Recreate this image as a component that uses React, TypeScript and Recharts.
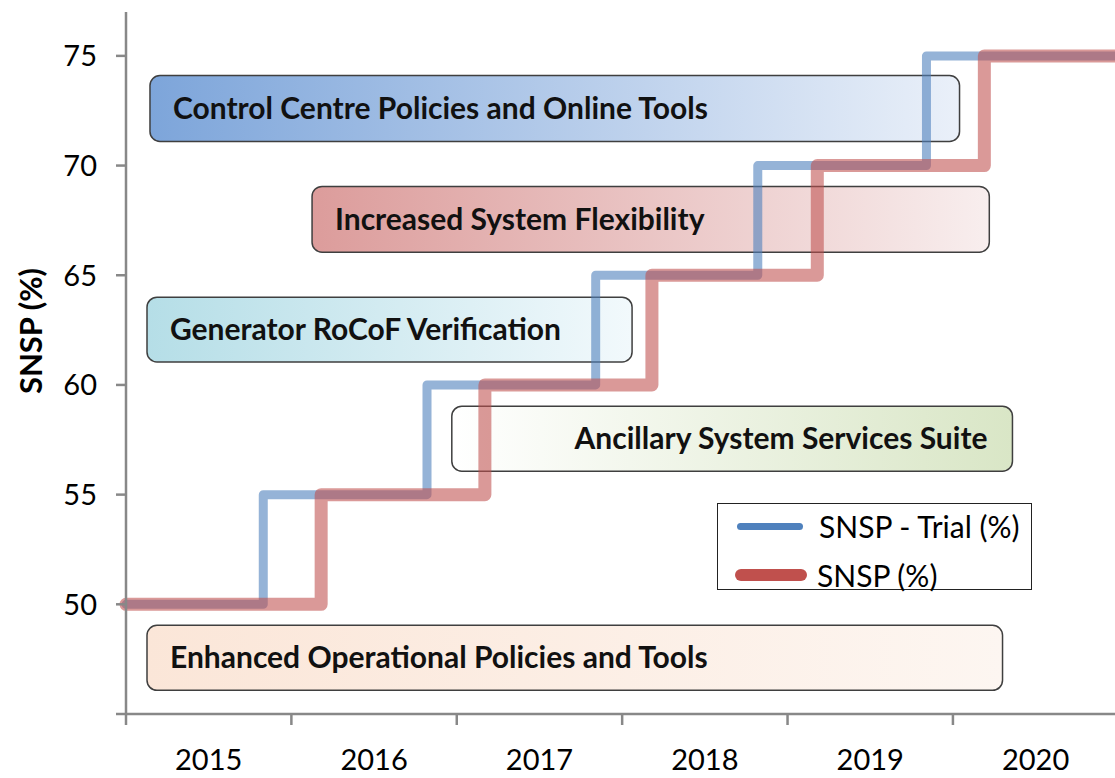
import { ComposedChart, Legend, Line, ReferenceArea, XAxis, YAxis } from "recharts";

const FONT = "Lato, 'Open Sans', sans-serif";

// year boundaries drawn as tick marks, labels sit in the middle of each year
const years = [2015, 2016, 2017, 2018, 2019, 2020];
const yTicks = [45, 50, 55, 60, 65, 70, 75];
const seriesOrder = ["SNSP - Trial (%)", "SNSP (%)"];

// step changes (fractional year where SNSP limit was raised)
const snspTrial = [
  { year: 2015.0, value: 50 },
  { year: 2015.83, value: 55 },
  { year: 2016.82, value: 60 },
  { year: 2017.84, value: 65 },
  { year: 2018.82, value: 70 },
  { year: 2019.84, value: 75 },
  { year: 2020.98, value: 75 },
];

const snsp = [
  { year: 2015.0, value: 50 },
  { year: 2016.18, value: 55 },
  { year: 2017.17, value: 60 },
  { year: 2018.18, value: 65 },
  { year: 2019.18, value: 70 },
  { year: 2020.19, value: 75 },
  { year: 2020.98, value: 75 },
];

// programme work streams: time span and SNSP band they sit in
const workstreams = [
  { name: "Control Centre Policies and Online Tools", from: 2015.145, to: 2020.04, low: 71.1, high: 74.1, grad: "gBlue", align: "left" },
  { name: "Increased System Flexibility", from: 2016.125, to: 2020.22, low: 66.05, high: 69.05, grad: "gRed", align: "left" },
  { name: "Generator RoCoF Verification", from: 2015.127, to: 2018.06, low: 61.05, high: 64.0, grad: "gCyan", align: "left" },
  { name: "Ancillary System Services Suite", from: 2016.97, to: 2020.36, low: 56.07, high: 59.03, grad: "gGreen", align: "right" },
  { name: "Enhanced Operational Policies and Tools", from: 2015.127, to: 2020.3, low: 46.08, high: 49.04, grad: "gOrange", align: "left" },
];

const X_MIN = 2015;
const X_MAX = 2020.98;
const PLOT_LEFT = 126;
const CHART_W = 1115;
const PX_PER_YEAR = (CHART_W - PLOT_LEFT) / (X_MAX - X_MIN);

function YearTick(props: any) {
  const { x, y, payload } = props;
  return (
    <text x={x + PX_PER_YEAR / 2} y={y} dy="0.71em" textAnchor="middle" fill="#000" fontSize={29} fontFamily={FONT}>
      {payload.value}
    </text>
  );
}

function RoundBox(props: any) {
  const { x, y, width, height, fill } = props;
  return <rect x={x} y={y} width={width} height={height} rx={10} ry={10} fill={fill} stroke="#3f3f3f" strokeWidth={1.5} />;
}

function LegendBox(props: any) {
  const items = [...(props.payload || [])].sort((a: any, b: any) => seriesOrder.indexOf(a.value) - seriesOrder.indexOf(b.value));
  return (
    <div style={{ position: "relative", width: 315, height: 87, border: "1.5px solid #222", background: "#fff", boxSizing: "border-box", fontFamily: FONT, fontSize: 30, color: "#000" }}>
      {items.map((item: any, i: number) => (
        <div key={item.value} style={{ position: "absolute", left: 0, top: i === 0 ? 2 : 51, height: 40, display: "flex", alignItems: "center" }}>
          <div
            style={{
              marginLeft: i === 0 ? 19 : 17,
              width: i === 0 ? 66 : 72,
              height: i === 0 ? 7 : 12,
              borderRadius: 6,
              background: item.color,
            }}
          />
          <span style={{ marginLeft: i === 0 ? 16 : 10, whiteSpace: "nowrap" }}>{item.value}</span>
        </div>
      ))}
    </div>
  );
}

export default function App() {
  return (
    <div style={{ position: "absolute", left: 0, top: 0, background: "#fff" }}>
      <ComposedChart width={CHART_W} height={778} margin={{ top: 12, right: 0, left: 0, bottom: 0 }}>
        <defs>
          <linearGradient id="gBlue" x1="0" y1="0" x2="1" y2="0">
            <stop offset="0%" stopColor="#7da5da" />
            <stop offset="100%" stopColor="#eaf0f9" />
          </linearGradient>
          <linearGradient id="gRed" x1="0" y1="0" x2="1" y2="0">
            <stop offset="0%" stopColor="#dc9c9b" />
            <stop offset="100%" stopColor="#f8eeee" />
          </linearGradient>
          <linearGradient id="gCyan" x1="0" y1="0" x2="1" y2="0">
            <stop offset="0%" stopColor="#b5dee7" />
            <stop offset="100%" stopColor="#f2f9fc" />
          </linearGradient>
          <linearGradient id="gGreen" x1="0" y1="0" x2="1" y2="0">
            <stop offset="0%" stopColor="#ffffff" />
            <stop offset="100%" stopColor="#d9e6c6" />
          </linearGradient>
          <linearGradient id="gOrange" x1="0" y1="0" x2="1" y2="0">
            <stop offset="0%" stopColor="#fbe6d8" />
            <stop offset="100%" stopColor="#fdf6f1" />
          </linearGradient>
        </defs>
        <XAxis
          type="number"
          dataKey="year"
          domain={[X_MIN, X_MAX]}
          ticks={years}
          interval={0}
          height={64}
          axisLine={{ stroke: "#888", strokeWidth: 2.5 }}
          tickLine={{ stroke: "#888", strokeWidth: 2.5 }}
          tickSize={11}
          tickMargin={24}
          tick={<YearTick />}
        />
        <YAxis
          type="number"
          domain={[45, 77]}
          ticks={yTicks}
          interval={0}
          width={PLOT_LEFT}
          axisLine={{ stroke: "#888", strokeWidth: 2.5 }}
          tickLine={{ stroke: "#888", strokeWidth: 2.5 }}
          tickSize={10}
          tickMargin={19}
          tickFormatter={(v: number) => (v === 45 ? "" : String(v))}
          tick={{ fill: "#000", fontSize: 29, fontFamily: FONT }}
          label={{
            content: (p: any) => {
              const vb = p.viewBox;
              const cx = vb.x + 30;
              const cy = vb.y + vb.height / 2 - 32;
              return (
                <text x={cx} y={cy} transform={`rotate(-90 ${cx} ${cy})`} textAnchor="middle" dominantBaseline="central" fontSize={31} fontWeight={700} fontFamily={FONT} fill="#000">
                  SNSP (%)
                </text>
              );
            },
          }}
        />
        {workstreams.map((w) => (
          <ReferenceArea
            key={w.name}
            x1={w.from}
            x2={w.to}
            y1={w.low}
            y2={w.high}
            fill={`url(#${w.grad})`}
            fillOpacity={1}
            shape={<RoundBox />}
            label={{
              value: w.name,
              position: w.align === "right" ? "insideRight" : "insideLeft",
              offset: w.align === "right" ? 25 : 23,
              fill: "#111",
              fontSize: 30,
              fontWeight: 700,
              fontFamily: FONT,
            }}
          />
        ))}
        <Line
          data={snspTrial}
          dataKey="value"
          name="SNSP - Trial (%)"
          type="stepAfter"
          stroke="#4f81bd"
          strokeOpacity={0.6}
          strokeWidth={9}
          strokeLinejoin="round"
          strokeLinecap="round"
          dot={false}
          activeDot={false}
          isAnimationActive={false}
        />
        <Line
          data={snsp}
          dataKey="value"
          name="SNSP (%)"
          type="stepAfter"
          stroke="#c0504d"
          strokeOpacity={0.58}
          strokeWidth={13}
          strokeLinejoin="round"
          strokeLinecap="round"
          dot={false}
          activeDot={false}
          isAnimationActive={false}
        />
        <Legend
          layout="vertical"
          verticalAlign="middle"
          align="center"
          content={<LegendBox />}
          wrapperStyle={{ left: 717, top: 503, width: 315, height: 87 }}
        />
      </ComposedChart>
    </div>
  );
}
